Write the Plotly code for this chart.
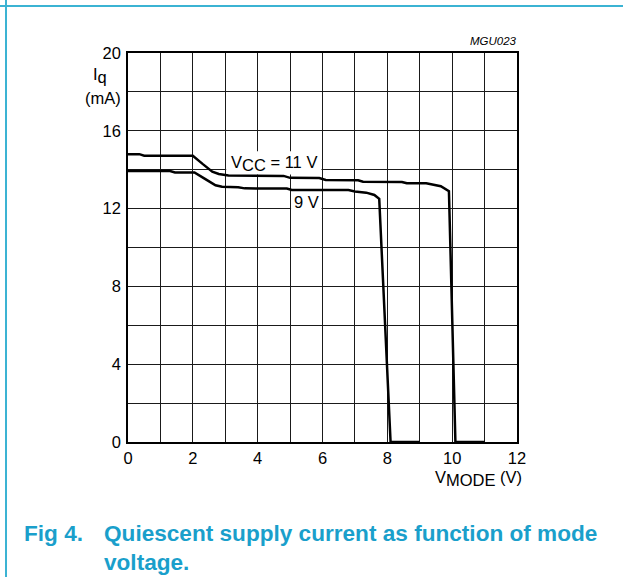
import plotly.graph_objects as go

# quiescent current vs mode voltage
vmode_11 = [0, 0.35, 0.5, 2.0, 2.3, 2.6, 2.8, 3.1, 4.8, 5.0, 5.9, 6.1, 7.1, 7.25, 8.45, 8.6, 9.2, 9.65, 9.9, 10.1, 11.0]
iq_11 = [14.8, 14.8, 14.72, 14.72, 14.3, 13.9, 13.78, 13.7, 13.68, 13.58, 13.57, 13.47, 13.46, 13.38, 13.37, 13.3, 13.3, 13.15, 12.9, 0, 0]

vmode_9 = [0, 1.3, 1.45, 2.05, 2.4, 2.7, 2.9, 3.4, 3.6, 4.9, 5.05, 6.8, 7.0, 7.35, 7.6, 7.75, 8.1, 9.0]
iq_9 = [13.93, 13.93, 13.86, 13.86, 13.5, 13.2, 13.12, 13.1, 13.04, 13.03, 12.96, 12.95, 12.88, 12.82, 12.7, 12.5, 0, 0]

x_ticks = [0, 2, 4, 6, 8, 10, 12]
y_ticks = [0, 4, 8, 12, 16, 20]

font_family = "Liberation Sans, Arial, sans-serif"
teal = "#1a9fcb"
frame_teal = "#3bb3d3"
fs = 16.5

fig = go.Figure()
fig.add_trace(go.Scatter(x=vmode_11, y=iq_11, mode="lines", name="11 V",
                         line=dict(color="black", width=2.5), cliponaxis=False))
fig.add_trace(go.Scatter(x=vmode_9, y=iq_9, mode="lines", name="9 V",
                         line=dict(color="black", width=2.5), cliponaxis=False))

fig.update_layout(
    width=623, height=577,
    margin=dict(l=128, r=106, t=53, b=135),
    paper_bgcolor="white", plot_bgcolor="white",
    showlegend=False,
    font=dict(family=font_family, size=fs, color="black"),
)
fig.update_xaxes(range=[0, 12], tickvals=x_ticks, ticks="", ticklabelstandoff=0,
                 showgrid=True, gridcolor="#1a1a1a", gridwidth=1.2,
                 minor=dict(dtick=1, showgrid=True, gridcolor="#1a1a1a", gridwidth=1.2),
                 showline=True, linecolor="black", linewidth=1.5, mirror=True, zeroline=False)
fig.update_yaxes(range=[0, 20], tickvals=y_ticks, ticks="", ticklabelstandoff=2,
                 showgrid=True, gridcolor="#1a1a1a", gridwidth=1.2,
                 minor=dict(dtick=2, showgrid=True, gridcolor="#1a1a1a", gridwidth=1.2),
                 showline=True, linecolor="black", linewidth=1.5, mirror=True, zeroline=False)

# white masks behind the curve labels (between grid and traces)
fig.add_shape(type="rect", xref="x", yref="y", x0=3.03, x1=5.97, y0=13.75, y1=14.95,
              fillcolor="white", line_width=0, layer="between")
fig.add_shape(type="rect", xref="x", yref="y", x0=5.03, x1=5.97, y0=11.92, y1=12.7,
              fillcolor="white", line_width=0, layer="between")

big_sub = '<sub><span style="font-size:%gpx">%s</span></sub>'

fig.add_annotation(x=4.5, y=14.3, xref="x", yref="y", xanchor="center", yanchor="middle",
                   text="V" + big_sub % (fs, "CC") + " = 11 V", showarrow=False)
fig.add_annotation(x=5.5, y=12.32, xref="x", yref="y", xanchor="center", yanchor="middle",
                   text="9 V", showarrow=False)

# axis titles
fig.add_annotation(x=-0.072, y=0.943, xref="paper", yref="paper", xanchor="center", yanchor="middle",
                   text="I" + big_sub % (fs, "q"), showarrow=False)
fig.add_annotation(x=-0.064, y=0.884, xref="paper", yref="paper", xanchor="center", yanchor="middle",
                   text="(mA)", showarrow=False)
fig.add_annotation(x=1.017, y=-0.093, xref="paper", yref="paper", xanchor="right", yanchor="middle",
                   text="V" + big_sub % (fs, "MODE") + " (V)", showarrow=False)
fig.add_annotation(x=1.005, y=1.031, xref="paper", yref="paper", xanchor="right", yanchor="middle",
                   text="<i>MGU023</i>", showarrow=False, font=dict(size=11.5))

# caption
cap_font = dict(size=22.6, color=teal)
fig.add_annotation(x=-0.2725, y=-0.234, xref="paper", yref="paper", xanchor="left", yanchor="middle",
                   text="<b>Fig 4.</b>", showarrow=False, font=cap_font)
fig.add_annotation(x=-0.0668, y=-0.234, xref="paper", yref="paper", xanchor="left", yanchor="middle",
                   text="<b>Quiescent supply current as function of mode</b>",
                   showarrow=False, font=cap_font)
fig.add_annotation(x=-0.0668, y=-0.3085, xref="paper", yref="paper", xanchor="left", yanchor="middle",
                   text="<b>voltage.</b>", showarrow=False, font=cap_font)

# page frame lines (top and left)
fig.add_shape(type="line", xref="paper", yref="paper", x0=-0.33, x1=1.3, y0=1.121, y1=1.121,
              line=dict(color=frame_teal, width=2))
fig.add_shape(type="line", xref="paper", yref="paper", x0=-0.3136, x1=-0.3136, y0=1.14, y1=-0.35,
              line=dict(color=frame_teal, width=2))

fig.write_html("out.html", config={"displayModeBar": False},
               post_script="document.body.style.margin = '0';")
